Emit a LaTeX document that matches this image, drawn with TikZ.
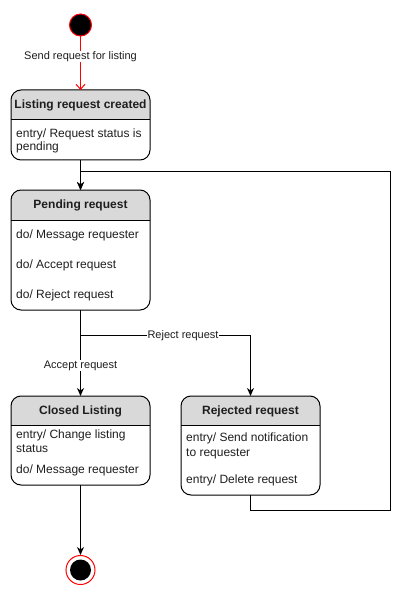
\documentclass[tikz,border=0pt]{standalone}
\usepackage{fontspec}
\setmainfont{Liberation Sans}
\usetikzlibrary{arrows.meta}
\definecolor{hdr}{RGB}{217,217,217}
\definecolor{txt}{RGB}{30,30,30}
\tikzset{
  x=1pt, y=-1pt,
  line/.style={line width=1pt, draw=black},
  arr/.style={line, -{Stealth[length=8pt,width=7pt,inset=2.5pt]}},
  title/.style={font=\bfseries\fontsize{12pt}{14pt}\selectfont, text=txt, inner sep=0pt, text height=8.6pt, text depth=2.5pt},
  body/.style={font=\fontsize{12pt}{14pt}\selectfont, text=txt, inner sep=0pt, anchor=west, text height=8.6pt, text depth=2.5pt},
  lbl/.style={font=\fontsize{11pt}{13pt}\selectfont, text=txt, fill=white, inner sep=0.5pt, text height=7.9pt, text depth=2.3pt},
  frame/.style={inner sep=0pt, outer sep=0pt},
}
% \statebox{name}{x1}{y1}{x2}{y2}{header bottom}
\newcommand{\statebox}[6]{%
  \begin{scope}
    \clip (#2,#3) rectangle (#4,#6);
    \fill[hdr, rounded corners=10pt] (#2,#3) rectangle (#4,#5);
  \end{scope}
  \draw[line, rounded corners=10pt] (#2,#3) rectangle (#4,#5);
  \draw[line] (#2,#6) -- (#4,#6);
  \node[frame, minimum width={#4-#2}, minimum height={#5-#3}] (#1) at ({(#2+#4)/2},{(#3+#5)/2}) {};
}
\begin{document}
\begin{tikzpicture}
\useasboundingbox (0,0) rectangle (409,596);

% initial state
\node[circle, fill=black, draw=red, line width=1pt, minimum size=22pt, inner sep=0pt] (init) at (80.5,25) {};

% states
\statebox{lrc}{11}{90}{150}{160}{120}
\node[title] (lrct) at (80.5,105.5) {Listing request created};
\node[body] (lrc1) at (16,134) {entry/ Request status is};
\node[body] (lrc2) at (16,147.5) {pending};

\statebox{pend}{11}{190}{150}{310}{220}
\node[title] (pendt) at (80.5,205.5) {Pending request};
\node[body] (pend1) at (16,235.5) {do/ Message requester};
\node[body] (pend2) at (16,265.5) {do/ Accept request};
\node[body] (pend3) at (16,295.5) {do/ Reject request};

\statebox{closed}{11}{396}{150}{485}{425.5}
\node[title] (closedt) at (80.5,411) {Closed Listing};
\node[body] (closed1) at (16,435.5) {entry/ Change listing};
\node[body] (closed2) at (16,449) {status};
\node[body] (closed3) at (16,470.5) {do/ Message requester};

\statebox{rej}{181}{396}{320}{495}{425.5}
\node[title] (rejt) at (250.5,411) {Rejected request};
\node[body] (rej1) at (186,438.5) {entry/ Send notification};
\node[body] (rej2) at (186,453) {to requester};
\node[body] (rej3) at (186,480.5) {entry/ Delete request};

% final state
\node[circle, draw=red, line width=1pt, fill=white, minimum size=29pt, inner sep=0pt] (final) at (80.5,570) {};
\node[circle, fill=black, minimum size=21pt, inner sep=0pt] (finalin) at (80.5,570) {};

% coordinates
\coordinate (split) at (80.5,335);
\coordinate (rcorner) at (250.5,335);
\coordinate (lb1) at (250.5,510);
\coordinate (lb2) at (390,510);
\coordinate (lb3) at (390,171);
\coordinate (lb4) at (80.5,171);

% transitions
\draw[line, draw=red, -{Straight Barb[length=5pt,width=9pt]}] (init) -- (lrc.north);
\node[lbl] (l1) at (80.5,56.5) {Send request for listing};
\draw[arr] (lrc.south) -- (pend.north);
\draw[arr] (pend.south) -- (closed.north);
\node[lbl] (l2) at (80.5,365.5) {Accept request};
\draw[arr] (split) -- (rcorner) -- (rej.north);
\node[lbl] (l3) at (183,335.5) {Reject request};
\draw[arr] (rej.south) -- (lb1) -- (lb2) -- (lb3) -- (lb4) -- (pend.north);
\draw[arr] (closed.south) -- (final.north);
\end{tikzpicture}
\end{document}
